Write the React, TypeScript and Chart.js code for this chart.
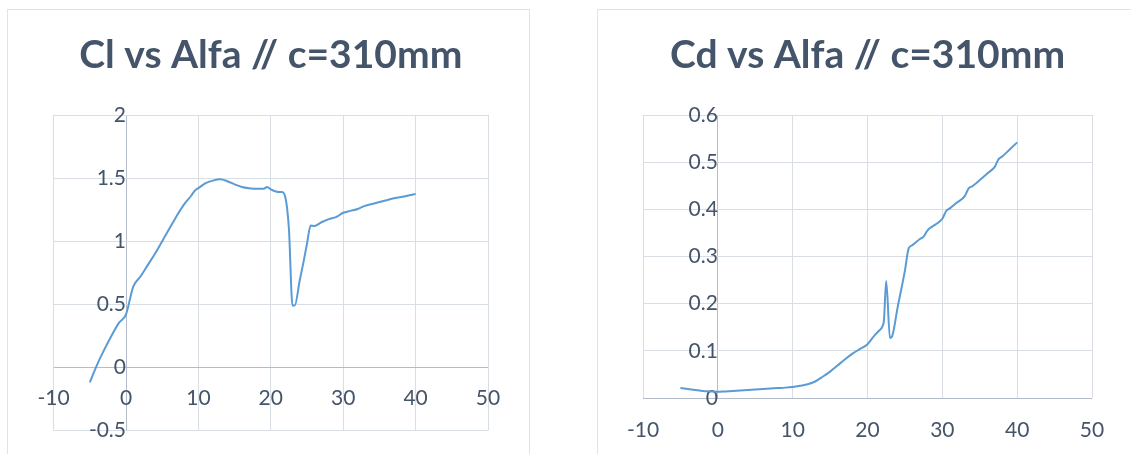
import React, { useEffect, useRef } from "react";
import { Chart, registerables } from "chart.js";

Chart.register(...registerables);

// ---- Data ----
const clTitle = "Cl vs Alfa // c=310mm";
const cdTitle = "Cd vs Alfa // c=310mm";

const clAlpha = [-5, -4, -3, -2, -1, 0, 1, 2, 3, 4, 5, 6, 7, 8, 9, 9.5, 10, 11, 12, 13, 14, 15, 16, 17, 18, 19, 19.5, 20, 21, 21.5, 22, 22.5, 23, 23.3, 24, 24.5, 25, 25.5, 26, 27, 28, 29, 30, 31, 32, 33, 34, 35, 36, 37, 38, 39, 40];
const clValues = [-0.12, 0.02, 0.14, 0.25, 0.35, 0.42, 0.64, 0.72, 0.81, 0.9, 1.0, 1.1, 1.2, 1.29, 1.36, 1.4, 1.42, 1.46, 1.48, 1.49, 1.475, 1.45, 1.43, 1.42, 1.415, 1.415, 1.43, 1.41, 1.39, 1.39, 1.35, 1.1, 0.49, 0.49, 0.69, 0.83, 0.98, 1.125, 1.12, 1.15, 1.175, 1.19, 1.225, 1.24, 1.255, 1.28, 1.295, 1.31, 1.325, 1.34, 1.35, 1.362, 1.375];

const cdAlpha = [-5, -4, -3, -2, -1, 0, 1, 2, 3, 4, 5, 6, 7, 8, 9, 10, 11, 12, 13, 14, 15, 16, 17, 18, 19, 20, 21, 21.5, 22, 22.2, 22.5, 23, 23.3, 24, 25, 25.5, 26, 27, 27.5, 28, 29, 30, 30.5, 31, 32, 33, 33.5, 34, 35, 36, 37, 37.5, 38, 39, 40];
const cdValues = [0.021, 0.019, 0.017, 0.015, 0.014, 0.013, 0.014, 0.015, 0.016, 0.017, 0.018, 0.019, 0.02, 0.021, 0.022, 0.0235, 0.026, 0.029, 0.035, 0.045, 0.056, 0.069, 0.082, 0.094, 0.104, 0.114, 0.134, 0.142, 0.152, 0.165, 0.248, 0.127, 0.131, 0.19, 0.27, 0.317, 0.324, 0.337, 0.342, 0.355, 0.367, 0.38, 0.396, 0.402, 0.415, 0.428, 0.444, 0.449, 0.462, 0.476, 0.49, 0.506, 0.512, 0.527, 0.542];

const xTicks = { min: -10, max: 50, step: 10 };
const clTicks = { min: -0.5, max: 2, step: 0.5 };
const cdTicks = { min: 0, max: 0.6, step: 0.1 };

const LINE = "#5b9bd5";
const GRID = "#d9dde4";
const AXIS = "#b4bccb";
const TEXT = "#44546a";

Chart.defaults.font.family = "Lato";

const fmt = (v: any) => String(Math.round(Number(v) * 100) / 100);

function makeConfig(title: string, xs: number[], ys: number[], yr: { min: number; max: number; step: number }, padding: any, xPad: number) {
  const pts = xs.map((x, i) => ({ x, y: ys[i] }));
  const gridColor = (ctx: any) => (ctx.tick && Math.abs(ctx.tick.value) < 1e-9 ? AXIS : GRID);
  return {
    type: "scatter",
    data: {
      datasets: [
        {
          data: pts,
          showLine: true,
          borderColor: LINE,
          backgroundColor: LINE,
          borderWidth: 2,
          pointRadius: 0,
          cubicInterpolationMode: "monotone",
        },
      ],
    },
    options: {
      responsive: false,
      animation: false,
      layout: { padding },
      plugins: {
        legend: { display: false },
        tooltip: { enabled: false },
        title: {
          display: true,
          text: title,
          color: TEXT,
          font: { family: "Lato", weight: "bold", size: 39, lineHeight: 1.2 },
          padding: { top: 21.8, bottom: 36.4 },
        },
      },
      scales: {
        x: {
          type: "linear",
          min: xTicks.min,
          max: xTicks.max,
          position: { y: 0 },
          ticks: { stepSize: xTicks.step, color: TEXT, font: { size: 21 }, padding: xPad, maxRotation: 0, callback: fmt },
          grid: { color: gridColor, drawTicks: false, lineWidth: 1 },
          border: { display: false },
        },
        y: {
          type: "linear",
          min: yr.min,
          max: yr.max,
          position: { x: 0 },
          ticks: { stepSize: yr.step, color: TEXT, font: { size: 21 }, padding: 23, callback: fmt },
          grid: { color: gridColor, drawTicks: false, lineWidth: 1 },
          border: { display: false },
        },
      },
    },
  } as any;
}

function ChartBox(props: { left: number; width: number; height: number; config: any }) {
  const ref = useRef<HTMLCanvasElement>(null);
  useEffect(() => {
    const chart = new Chart(ref.current as HTMLCanvasElement, props.config);
    return () => chart.destroy();
  }, []);
  return (
    <div
      style={{
        position: "absolute",
        left: props.left,
        top: 9,
        width: props.width,
        height: 480,
        border: "1px solid #dfe3ea",
        boxSizing: "border-box",
        background: "#fff",
      }}
    >
      <canvas ref={ref} width={props.width - 2} height={props.height} style={{ display: "block" }} />
    </div>
  );
}

export default function App() {
  const leftCfg = makeConfig(clTitle, clAlpha, clValues, clTicks, { top: 0, left: 45.6, right: 41, bottom: 24 }, 18);
  const rightCfg = makeConfig(cdTitle, cdAlpha, cdValues, cdTicks, { top: 0, left: 45, right: 44, bottom: 56 }, 20);
  return (
    <div
      style={{
        position: "fixed",
        left: 0,
        top: 0,
        width: 1131,
        height: 454,
        overflow: "hidden",
        background: "#fff",
      }}
    >
      <ChartBox left={7} width={523} height={456} config={leftCfg} />
      <ChartBox left={597} width={540} height={444} config={rightCfg} />
    </div>
  );
}
